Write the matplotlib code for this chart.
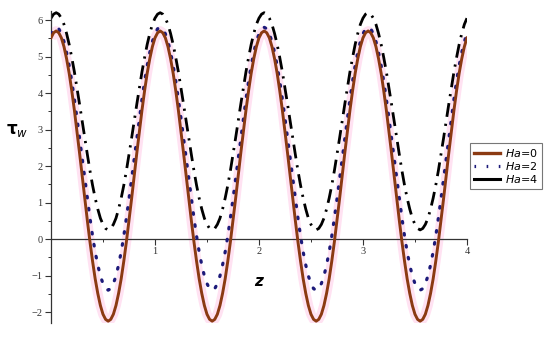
import matplotlib
matplotlib.use("Agg")
import matplotlib.pyplot as plt
from matplotlib.lines import Line2D
import numpy as np

# wall shear stress, z = 0 .. 4 every 0.025
z = [round(0.025 * k, 3) for k in range(161)]

# one period (40 samples) of each curve, repeated across the 4 periods
ha0_period = [5.51, 5.65, 5.70, 5.65, 5.51, 5.27, 4.94, 4.54, 4.06, 3.53,
              2.95, 2.35, 1.73, 1.10, 0.50, -0.08, -0.61, -1.09, -1.49, -1.82,
              -2.06, -2.20, -2.25, -2.20, -2.06, -1.82, -1.49, -1.09, -0.61, -0.08,
              0.50, 1.10, 1.73, 2.35, 2.95, 3.53, 4.06, 4.54, 4.94, 5.27]
ha2_period = [5.62, 5.76, 5.80, 5.76, 5.62, 5.41, 5.11, 4.75, 4.32, 3.83,
              3.31, 2.76, 2.20, 1.64, 1.09, 0.57, 0.08, -0.35, -0.71, -1.01,
              -1.22, -1.36, -1.40, -1.36, -1.22, -1.01, -0.71, -0.35, 0.08, 0.57,
              1.09, 1.64, 2.20, 2.76, 3.31, 3.83, 4.32, 4.75, 5.11, 5.41]
ha4_period = [6.05, 6.16, 6.20, 6.16, 6.05, 5.88, 5.63, 5.33, 4.97, 4.58,
              4.14, 3.69, 3.23, 2.76, 2.31, 1.87, 1.47, 1.12, 0.82, 0.57,
              0.40, 0.29, 0.25, 0.29, 0.40, 0.57, 0.82, 1.12, 1.47, 1.87,
              2.31, 2.76, 3.23, 3.69, 4.14, 4.58, 4.97, 5.33, 5.63, 5.88]

tau_ha0 = (ha0_period * 5)[:161]
tau_ha2 = (ha2_period * 5)[:161]
tau_ha4 = (ha4_period * 5)[:161]

labels = [r"$\it{Ha}$=0", r"$\it{Ha}$=2", r"$\it{Ha}$=4"]

fig = plt.figure(figsize=(5.5, 3.38), dpi=100)
ax = fig.add_axes([0.0927, 0.0444, 0.7563, 0.9234])

# pink halo around the Ha=0 curve
ax.plot(z, tau_ha0, color="#ffe2f2", lw=7, solid_capstyle="butt", zorder=1)
ax.plot(z, tau_ha0, color="#8b3a12", lw=2.1, zorder=4)
ax.plot(z, tau_ha2, color="#1c1a7a", lw=2.3, linestyle=(0, (0.5, 3.3)),
        dash_capstyle="round", zorder=3)
ax.plot(z, tau_ha4, color="black", lw=2.0, linestyle=(0, (5, 2.5, 0.8, 2.5)),
        zorder=2)

ax.set_xlim(0, 4)
ax.set_ylim(-2.3, 6.25)

ax.spines["top"].set_visible(False)
ax.spines["right"].set_visible(False)
ax.spines["bottom"].set_position(("data", 0))
ax.spines["left"].set_position(("data", 0))
for s in ("bottom", "left"):
    ax.spines[s].set_linewidth(0.9)
    ax.spines[s].set_color("#333333")

ax.set_xticks([1, 2, 3, 4])
ax.set_xticks(np.arange(0.5, 4.0, 0.5), minor=True)
ax.set_yticks([-2, -1, 0, 1, 2, 3, 4, 5, 6])
ax.set_yticks(np.arange(-2, 6.01, 0.5), minor=True)
ax.tick_params(which="major", length=4, width=0.8, color="#333333",
               labelsize=7.5, pad=2)
ax.tick_params(which="minor", length=2.5, width=0.7, color="#333333")
for lab in ax.get_xticklabels() + ax.get_yticklabels():
    lab.set_fontfamily("Liberation Serif")
    lab.set_color("#333333")

ax.text(2.0, -1.15, "z", fontsize=11, fontweight="bold", fontstyle="italic",
        family="DejaVu Sans", ha="center", va="center")
fig.text(0.032, 0.615, r"$\mathbf{\tau}_{\mathit{w}}$", fontsize=12,
         ha="center", va="center")

handles = [Line2D([], [], color="#8b3a12", lw=2.4),
           Line2D([], [], color="#1c1a7a", lw=2.3, linestyle=(0, (0.5, 3.3))),
           Line2D([], [], color="black", lw=2.2)]
leg = fig.legend(handles, labels, loc="upper left",
                 bbox_to_anchor=(0.855, 0.578), fontsize=8,
                 frameon=True, fancybox=False, handlelength=2.3,
                 handletextpad=0.5, borderpad=0.35, labelspacing=0.12,
                 borderaxespad=0)
leg.get_frame().set_edgecolor("#555555")
leg.get_frame().set_linewidth(0.8)

fig.savefig("out.png", dpi=100)
